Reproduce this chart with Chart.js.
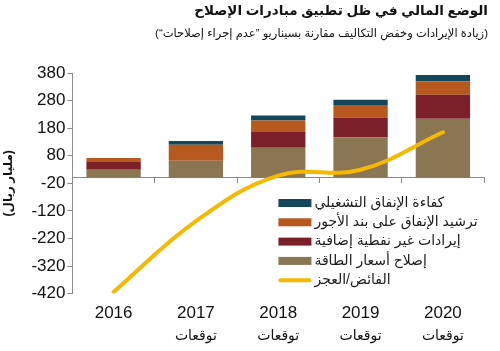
<!DOCTYPE html>
<html>
<head>
<meta charset="utf-8">
<script src="https://cdn.jsdelivr.net/npm/chart.js@4"></script>
<style>
html,body{margin:0;padding:0;background:#fff;}
#wrap{width:500px;height:351px;}
</style>
</head>
<body>
<div id="wrap"><canvas id="c" width="500" height="351"></canvas></div>
<script>
const RLM = '\u200F';
const years = ['2016', '2017', '2018', '2019', '2020'];
const forecastTags = ['', 'توقعات', 'توقعات', 'توقعات', 'توقعات'];

const energyPriceReform = [29, 62, 109, 147, 214];
const extraNonOilRevenue = [28, 0, 57, 71, 87];
const wageBillRationalization = [15, 58, 42, 46, 49];
const operatingSpendEfficiency = [0, 13, 18, 19, 23];
const surplusDeficit = [-414, -157, 8, 29, 165];

const yTickMin = -420;
const yTickMax = 380;
const yTickStep = 100;

const titleText = 'الوضع المالي في ظل تطبيق مبادرات الإصلاح';
const subtitleText = RLM + '(زيادة الإيرادات وخفض التكاليف مقارنة بسيناريو ”عدم إجراء إصلاحات“)' + RLM;
const yTitleText = RLM + '(مليار ريال)' + RLM;

const FONT = "'Liberation Sans', 'DejaVu Sans', Arial, sans-serif";

const insideLegend = {
  id: 'insideLegend',
  afterDraw(chart) {
    const ctx = chart.ctx;
    const a = chart.chartArea;
    const order = [3, 2, 1, 0, 4];
    const bx = a.left + 206;
    const y0 = a.top + 130;
    const step = 19.3;
    ctx.save();
    ctx.font = '14px ' + FONT;
    ctx.textBaseline = 'middle';
    ctx.textAlign = 'left';
    order.forEach((di, i) => {
      const ds = chart.data.datasets[di];
      const cy = y0 + i * step;
      if (ds.type === 'line') {
        ctx.strokeStyle = ds.borderColor;
        ctx.lineWidth = 4;
        ctx.lineCap = 'round';
        ctx.beginPath();
        ctx.moveTo(bx + 2, cy);
        ctx.lineTo(bx + 31, cy);
        ctx.stroke();
      } else {
        ctx.fillStyle = ds.backgroundColor;
        ctx.fillRect(bx, cy - 4, 33, 8);
      }
      ctx.fillStyle = '#1a1a1a';
      ctx.fillText(ds.label, bx + 36, cy);
    });
    ctx.restore();
  }
};

new Chart(document.getElementById('c'), {
  type: 'bar',
  data: {
    labels: years,
    datasets: [
      { label: 'إصلاح أسعار الطاقة', data: energyPriceReform, backgroundColor: '#8b7653', stack: 'bars', order: 2 },
      { label: 'إيرادات غير نفطية إضافية', data: extraNonOilRevenue, backgroundColor: '#7b1f28', stack: 'bars', order: 2 },
      { label: 'ترشيد الإنفاق على بند الأجور', data: wageBillRationalization, backgroundColor: '#b7581f', stack: 'bars', order: 2 },
      { label: 'كفاءة الإنفاق التشغيلي', data: operatingSpendEfficiency, backgroundColor: '#15475b', stack: 'bars', order: 2 },
      { type: 'line', label: 'الفائض/العجز', data: surplusDeficit, borderColor: '#f6b800', backgroundColor: '#f6b800', borderWidth: 4, pointRadius: 0, tension: 0.4, fill: false, stack: 'line', order: 0, borderCapStyle: 'round' }
    ]
  },
  options: {
    responsive: false,
    animation: false,
    devicePixelRatio: 1,
    layout: { padding: { left: 1, right: 12, top: 0, bottom: 17 } },
    datasets: { bar: { categoryPercentage: 1, barPercentage: 0.66 } },
    scales: {
      x: {
        stacked: true,
        grid: { display: false, drawTicks: false },
        border: { display: false },
        ticks: { color: '#111', font: { family: FONT, size: 17, lineHeight: 1.2 }, padding: 10, maxRotation: 0, autoSkip: false }
      },
      x4: {
        type: 'category',
        axis: 'x',
        position: { y: yTickMin },
        labels: forecastTags,
        offset: true,
        grid: { display: false, drawTicks: false },
        border: { display: false },
        ticks: { color: '#111', font: { family: FONT, size: 14, lineHeight: 1.2 }, padding: 34.5, maxRotation: 0, autoSkip: false }
      },
      x2: {
        type: 'category',
        axis: 'x',
        labels: years,
        offset: true,
        position: { y: 0 },
        grid: { display: true, drawOnChartArea: false, drawTicks: true, tickLength: 5, color: '#8a8a8a', offset: true },
        border: { display: true, color: '#8a8a8a', width: 1 },
        ticks: { display: false }
      },
      y: {
        stacked: true,
        min: yTickMin,
        max: yTickMax,
        grid: { display: true, drawOnChartArea: false, drawTicks: true, tickLength: 5, color: '#8a8a8a' },
        border: { display: true, color: '#8a8a8a' },
        ticks: { stepSize: yTickStep, color: '#111', font: { family: FONT, size: 17 }, padding: 2 },
        title: { display: true, text: yTitleText, color: '#111', font: { family: FONT, size: 12, weight: 'bold' }, padding: { top: 0, bottom: 14 } }
      }
    },
    plugins: {
      legend: { display: false },
      tooltip: { enabled: false },
      title: { display: true, text: titleText, align: 'end', color: '#111', font: { family: FONT, size: 13.5, weight: 'bold' }, padding: { top: 3, bottom: 8 } },
      subtitle: { display: true, text: subtitleText, align: 'end', color: '#111', font: { family: FONT, size: 11.5 }, padding: { top: 0, bottom: 32 } }
    }
  },
  plugins: [insideLegend]
});
</script>
</body>
</html>
